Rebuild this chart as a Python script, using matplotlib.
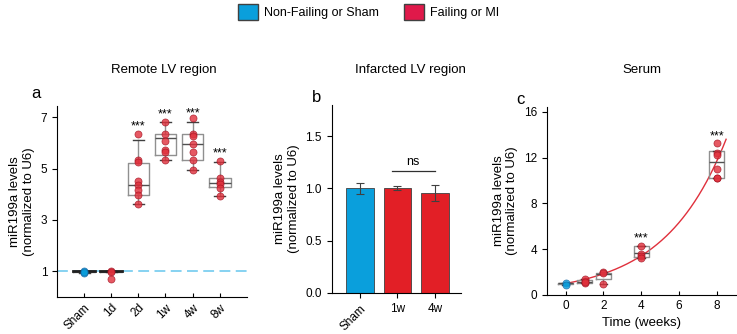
import matplotlib
matplotlib.use("Agg")
import matplotlib.pyplot as plt
from matplotlib.patches import Patch
import numpy as np

plt.rcParams['font.family'] = ['Liberation Sans', 'DejaVu Sans']
plt.rcParams['font.size'] = 8

BLUE = '#0a9fdc'
RED = '#e21f26'
PT_RED = '#e0303c'
LEG_RED = '#e0194a'

# ---- Panel a: remote LV region ----
a_groups = ['Sham', '1d', '2d', '1w', '4w', '8w']
a_points = [
    [1.0, 0.92, 0.98],
    [1.0, 0.97, 0.68],
    [6.35, 5.35, 5.25, 4.53, 4.36, 4.18, 3.97, 3.64],
    [6.82, 6.35, 6.08, 5.73, 5.64, 5.35],
    [6.96, 6.35, 6.26, 5.96, 5.64, 5.35, 4.96],
    [5.31, 4.62, 4.5, 4.4, 4.25, 3.95],
]
a_q1 = [0.97, 0.97, 3.97, 5.53, 5.35, 4.29]
a_med = [1.0, 1.0, 4.35, 6.19, 5.96, 4.44]
a_q3 = [1.02, 1.02, 5.22, 6.35, 6.35, 4.62]
a_lo = [0.92, 0.97, 3.64, 5.35, 4.96, 3.95]
a_hi = [1.0, 1.0, 6.13, 6.82, 6.84, 5.25]
a_star_y = [None, None, 6.65, 7.1, 7.17, 5.58]

# ---- Panel b: infarcted LV region ----
b_groups = ['Sham', '1w', '4w']
b_means = [1.0, 1.005, 0.955]
b_err = [0.05, 0.02, 0.075]

# ---- Panel c: serum ----
c_weeks = [0, 1, 2, 4, 8]
c_points = [
    [1.0, 0.9],
    [1.2, 1.35, 1.0, 1.1],
    [2.0, 1.9, 0.96],
    [4.3, 3.6, 3.4, 3.23],
    [13.24, 12.42, 12.2, 10.97, 10.25, 10.2],
]
c_q1 = [0.95, 1.0, 1.4, 3.29, 10.21]
c_med = [1.0, 1.15, 1.8, 3.64, 11.6]
c_q3 = [1.02, 1.3, 1.95, 4.3, 12.57]
c_lo = [0.9, 1.0, 0.96, 3.23, 10.2]
c_hi = [1.0, 1.35, 2.0, 4.3, 12.57]
c_star_y = [None, None, None, 4.95, 13.8]
fit_a, fit_b = 1.0, 0.307  # exponential fit parameters
fit_range = (0.0, 8.5)

fig = plt.figure(figsize=(7.37, 3.34), dpi=100)

def boxes(ax, pos, q1, med, q3, lo, hi, width):
    stats = [dict(q1=q1[i], med=med[i], q3=q3[i], whislo=lo[i], whishi=hi[i], fliers=[])
             for i in range(len(pos))]
    ax.bxp(stats, positions=pos, widths=width, showfliers=False, manage_ticks=False,
           boxprops=dict(color='#909090', lw=1.0),
           medianprops=dict(color='#505050', lw=1.0),
           whiskerprops=dict(color='#909090', lw=1.0),
           capprops=dict(color='#404040', lw=1.0), zorder=2)

def ylab(ax):
    ax.set_ylabel('miR199a levels\n(normalized to U6)', fontsize=9.5)

# Panel a
axa = fig.add_axes([0.0773, 0.111, 0.2577, 0.572])
xa = np.arange(1, len(a_groups) + 1)
axa.axhline(1.0, color='#7dcff0', lw=1.3, ls=(0, (6, 3)), zorder=1)
boxes(axa, xa, a_q1, a_med, a_q3, a_lo, a_hi, 0.8)
for i, pts in enumerate(a_points):
    col = BLUE if i == 0 else PT_RED
    ec = '#1060a0' if i == 0 else '#a01020'
    axa.scatter([xa[i]] * len(pts), pts, s=26, color=col, alpha=0.8, edgecolors=ec,
                linewidths=0.5, zorder=3)
    if i < 2:
        axa.plot([xa[i] - 0.4, xa[i] + 0.4], [a_med[i]] * 2, color='#202020', lw=2, zorder=2.5)
    if a_star_y[i] is not None:
        axa.text(xa[i], a_star_y[i], '***', ha='center', va='center', fontsize=9)
axa.set_xlim(0, 7)
axa.set_ylim(0, 7.45)
axa.set_yticks([1, 3, 5, 7])
axa.set_xticks(xa)
axa.set_xticklabels(a_groups, rotation=45, ha='right', rotation_mode='anchor', fontsize=9)
axa.tick_params(labelsize=8.5)
axa.tick_params(axis='x', direction='in', length=3)
for s in ['top', 'right']:
    axa.spines[s].set_visible(False)
ylab(axa)
fig.text(164 / 737, 1 - 70 / 334, 'Remote LV region', fontsize=9.5, ha='center', va='center')
fig.text(36 / 737, 1 - 94 / 334, 'a', fontsize=12, ha='center', va='center')

# Panel b
axb = fig.add_axes([0.450, 0.123, 0.175, 0.563])
xb = np.arange(1, len(b_groups) + 1)
axb.bar(xb, b_means, width=0.73, color=[BLUE, RED, RED], edgecolor='#404040', lw=0.6,
        yerr=b_err, error_kw=dict(ecolor='#404040', elinewidth=0.8, capsize=3, capthick=0.8),
        zorder=2)
axb.plot([1.85, 3.0], [1.17, 1.17], color='#303030', lw=0.9)
axb.text(2.42, 1.2, 'ns', ha='center', va='bottom', fontsize=9)
axb.set_xlim(0.245, 3.685)
axb.set_ylim(0, 1.8)
axb.set_yticks([0.0, 0.5, 1.0, 1.5])
axb.set_yticklabels(['0.0', '0.5', '1.0', '1.5'])
axb.set_xticks(xb)
axb.set_xticklabels(b_groups, fontsize=9)
lbl = axb.get_xticklabels()[0]
lbl.set_rotation(45)
lbl.set_ha('right')
lbl.set_rotation_mode('anchor')
axb.tick_params(labelsize=8.5)
for s in ['top', 'right']:
    axb.spines[s].set_visible(False)
ylab(axb)
fig.text(410 / 737, 1 - 70 / 334, 'Infarcted LV region', fontsize=9.5, ha='center', va='center')
fig.text(317 / 737, 1 - 98 / 334, 'b', fontsize=12, ha='center', va='center')

# Panel c
axc = fig.add_axes([0.742, 0.117, 0.256, 0.564])
xs = np.linspace(fit_range[0], fit_range[1], 200)
axc.plot(xs, fit_a * np.exp(fit_b * xs), color='#e0303c', lw=1.0, zorder=1.5)
boxes(axc, c_weeks, c_q1, c_med, c_q3, c_lo, c_hi, 0.8)
for i, pts in enumerate(c_points):
    col = BLUE if i == 0 else PT_RED
    ec = '#1060a0' if i == 0 else '#a01020'
    axc.scatter([c_weeks[i]] * len(pts), pts, s=26, color=col, alpha=0.8, edgecolors=ec,
                linewidths=0.5, zorder=3)
    if c_star_y[i] is not None:
        axc.text(c_weeks[i], c_star_y[i], '***', ha='center', va='center', fontsize=9)
axc.set_xlim(-1, 9)
axc.set_ylim(0, 16.45)
axc.set_yticks([0, 4, 8, 12, 16])
axc.set_xticks([0, 2, 4, 6, 8])
axc.tick_params(labelsize=8.5)
axc.tick_params(axis='x', direction='in', length=3)
for s in ['top', 'right']:
    axc.spines[s].set_visible(False)
ylab(axc)
axc.set_xlabel('Time (weeks)', fontsize=9.5)
fig.text(642 / 737, 1 - 70 / 334, 'Serum', fontsize=9.5, ha='center', va='center')
fig.text(520 / 737, 1 - 100 / 334, 'c', fontsize=12, ha='center', va='center')

# Legend
handles = [Patch(facecolor=BLUE, edgecolor='#404040', label='Non-Failing or Sham'),
           Patch(facecolor=LEG_RED, edgecolor='#404040', label='Failing or MI')]
fig.legend(handles=handles, loc='center', bbox_to_anchor=(0.5, 1 - 12 / 334), ncol=2,
           frameon=False, fontsize=9, handlelength=1.6, handleheight=1.6,
           columnspacing=2.0, handletextpad=0.5)

fig.savefig('out.png', dpi=100)
